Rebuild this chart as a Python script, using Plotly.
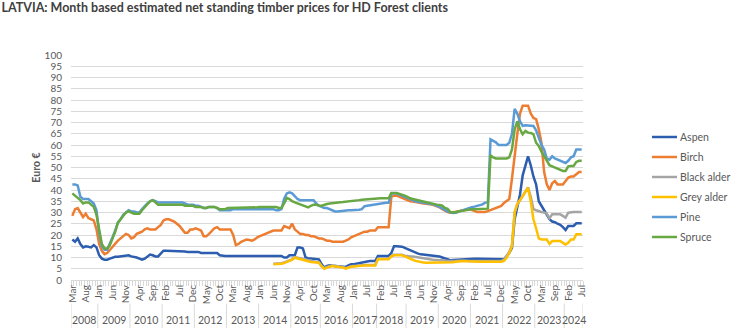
import plotly.graph_objects as go

# ---------------- categories ----------------
years = [2008, 2009, 2010, 2011, 2012, 2013, 2014, 2015, 2016,
         2017, 2018, 2019, 2020, 2021, 2022, 2023, 2024]
ALL = ["Jan", "Feb", "Mar", "Apr", "May", "Jun", "Jul", "Aug", "Sep", "Oct", "Nov", "Dec"]
months_by_year = {
    2008: ["Mar", "Apr", "May", "Jun", "Jul", "Aug", "Sep", "Oct", "Nov", "Dec"],
    2009: ALL, 2010: ALL, 2011: ALL, 2012: ALL, 2013: ALL, 2014: ALL,
    2015: ["Jan", "Feb", "Mar", "Apr", "May", "Jul", "Aug", "Sep", "Oct", "Nov", "Dec"],
    2016: ALL,
    2017: ["Jan", "Feb", "Mar", "Apr", "May", "Jul", "Aug", "Oct", "Dec"],
    2018: ["Jan", "Feb", "Mar", "Apr", "May", "Jun", "Jul", "Aug", "Sep", "Nov", "Dec"],
    2019: ALL, 2020: ALL, 2021: ALL, 2022: ALL,
    2023: ["Jan", "Feb", "Mar", "Apr", "May", "Jul", "Aug", "Sep", "Oct", "Nov", "Dec"],
    2024: ["Jan", "Feb", "Mar", "Apr", "May", "Jun", "Jul"],
}

# ---------------- series values (Euro) ----------------
aspen = [
    18, 17, 18.5, 16, 14.5, 15, 14.8, 14.5, 15.5, 14.5,
    11, 9.5, 9, 9, 9.5, 10, 10.3, 10.3, 10.5, 10.5, 11, 11,
    10.5, 10.3, 10, 9.5, 9, 9.5, 10.5, 11.3, 11, 10.5, 10.5, 12,
    13, 13, 13, 13, 13, 13, 13, 13, 12.7, 12.5, 12.5, 12.5,
    12.5, 12.5, 12, 12, 12, 12, 12, 12, 12, 11, 10.7, 10.7,
    10.7, 10.7, 10.7, 10.7, 10.7, 10.7, 10.7, 10.7, 10.7, 10.7, 10.7, 10.7,
    10.7, 10.7, 10.7, 10.7, 10.7, 10.7, 10.7, 10.7, 10.7, 10, 10, 11,
    11, 11, 14.5, 14.5, 14, 10, 9.7, 9.5, 9.5, 9.3, 9.2,
    7, 5.5, 6.3, 6.5, 6.3, 6.2, 6.2, 6, 6, 5.8, 6.5, 7,
    7, 7.3, 7.5, 7.7, 8, 8.2, 8.4, 8.4, 8.4,
    10.7, 10.7, 10.7, 10.7, 10.7, 12, 15, 15, 15, 14.8, 14.3,
    13.8, 13.3, 12.5, 12, 11.7, 11.4, 11.3, 11.2, 11.1, 11, 10.8, 10.5,
    10.4, 10, 9.5, 9.2, 8.8, 8.9, 9, 9.1, 9.2, 9.3, 9.3, 9.4,
    9.4, 9.4, 9.4, 9.4, 9.3, 9.3, 9.2, 9.1, 9.1, 9.1, 9.1, 9.1,
    9.2, 10.5, 12.1, 14.3, 27, 32.5, 38, 46.5, 50.5, 55, 51, 46,
    42.5, 35, 33, 31, 29, 27, 26, 25.7, 25, 24.5, 23.5,
    22.2, 24, 24, 24, 25.2, 25.2, 25.2,
]
birch = [
    28.5, 31.5, 32, 30, 28, 29.5, 27.5, 27, 26.5, 22.5,
    16, 13, 11.5, 12, 13.5, 14.5, 16, 17.5, 18.5, 19.5, 20.5, 20,
    18.5, 19, 20.5, 21, 21.5, 22.5, 23, 22.5, 22.5, 22.5, 23.5, 24.5,
    26.5, 27, 27, 26.5, 26, 25, 24, 22.5, 21, 21, 22.5, 22.5,
    23, 22.5, 22, 19.5, 19.5, 20.5, 22, 23, 23.5, 22.5, 22.5, 22.5,
    22.5, 22.5, 20, 15.5, 16, 17, 17.5, 18, 17.8, 17.5, 18, 19,
    19.5, 20, 20.5, 21, 21.5, 22, 22, 22, 22, 24, 23.5, 23,
    25, 22.5, 21.5, 20.5, 20.5, 20, 20, 19.5, 19.5, 19, 18.5,
    18.5, 18, 17.5, 17.5, 17, 17, 17, 17, 17, 17.5, 18, 19,
    19.5, 20, 20.5, 21, 21.5, 21.5, 22, 22, 22,
    23.5, 23.5, 23.5, 23.5, 23.5, 37, 37.5, 37.5, 37, 36.5, 36,
    35.5, 35, 34.9, 34.6, 34.3, 34.1, 34, 33.9, 33.8, 33.6, 33.2, 32.8,
    32.3, 31.5, 30.8, 30.2, 29.9, 30, 30.3, 30.6, 30.8, 31, 31.2, 31.4,
    31.2, 30.8, 30.2, 30.2, 30.2, 30.2, 30.6, 31.1, 31.5, 32.1, 32.5, 32.9,
    34.2, 35, 36, 45, 56, 65, 74, 77.5, 77.5, 77.5, 74, 72,
    71.5, 67, 61, 48, 42.5, 40, 43, 44, 42.5, 42.5, 42.5,
    44, 45.5, 46, 46, 47, 48, 48,
]
# alder series start in Jun 2014
black_alder = [
    7.2, 7.2, 7.2, 7.5, 7.8, 8.3, 8.8,
    9.2, 10.2, 9.9, 9.6, 9.2, 8.9, 8.6, 8.4, 8.2, 8, 7.8,
    6.2, 5.3, 5.8, 6.2, 6.4, 6.2, 6.1, 6.1, 5.8, 5.3, 5.8, 6.1,
    6.2, 6.4, 6.5, 6.7, 6.7, 6.7, 6.7, 6.7, 6.7,
    9.4, 9.4, 9.4, 9.4, 9.4, 10.7, 11.2, 11.2, 11.2, 11.2, 10.8,
    10.5, 10.4, 10.4, 10.2, 10, 9.8, 9.5, 9.2, 9, 8.9, 8.9, 8.9,
    8.9, 8.9, 8.7, 8.5, 8.4, 8.4, 8.5, 8.6, 8.7, 8.7, 8.6, 8.5,
    8.4, 8.4, 8.4, 8.4, 8.4, 8.4, 8.4, 8.4, 8.4, 8.4, 8.4, 8.5,
    9, 10.5, 12.5, 15.5, 30, 33.5, 35.5, 37.5, 39.5, 41.2, 37, 31.5,
    31, 30.5, 30.2, 30, 29.5, 27.5, 29.2, 29.2, 29.2, 29.2, 28.5,
    27.7, 29.9, 30.2, 30.2, 30.2, 30.2, 30.2,
]
grey_alder = [
    7, 7, 7, 7.2, 7.5, 8, 8.5,
    9, 9.9, 9.6, 9.2, 8.8, 8.4, 8.2, 8, 7.9, 7.8, 7.7,
    6, 5, 5.5, 6, 6.2, 6, 5.9, 5.9, 5.5, 5, 5.5, 5.9,
    6, 6.2, 6.3, 6.5, 6.5, 6.5, 6.5, 6.5, 6.5,
    9.2, 9.2, 9.2, 9.2, 9.2, 10.5, 11, 11, 11, 11, 10.5,
    9.9, 9.5, 9, 8.5, 8.2, 8, 7.8, 7.7, 7.7, 7.7, 7.7, 7.7,
    7.7, 7.7, 7.7, 7.7, 7.7, 7.9, 8.1, 8.3, 8.4, 8.4, 8.3, 8.2,
    8.1, 8.1, 8.1, 8.1, 8.1, 8.1, 8.1, 8.1, 8.1, 8.1, 8.1, 8.1,
    8.5, 9.9, 12, 15, 30, 34, 35.5, 37.5, 39, 41, 35, 27,
    23, 18.5, 18, 18, 18, 16, 17.3, 17.3, 17.3, 17.3, 16.5,
    15.8, 16.5, 18, 18, 20.3, 20.3, 20.3,
]
pine = [
    42.5, 42.5, 42, 37, 36, 36, 36, 35, 34, 31,
    21, 15, 13.5, 13.5, 16, 19, 22, 25.5, 27, 29, 30, 31,
    30.5, 30.5, 30, 30, 31.5, 33, 34, 35, 35.5, 35, 34.5, 34.5,
    34.5, 34.5, 34.5, 34.5, 34.5, 34.5, 34.5, 34.5, 34, 33.5, 33.5, 33.5,
    33, 33, 32.5, 32, 32, 32.5, 32.5, 32.5, 32, 31, 31, 31,
    31, 31, 31.5, 31.5, 31.5, 31.5, 31.5, 31.5, 31.5, 31.5, 31.5, 31.5,
    31.5, 31.5, 31.5, 31.5, 31.5, 31.5, 31, 31, 31.5, 36, 38.5, 39,
    38.5, 37, 36, 35.5, 35.5, 35.5, 35.5, 35.5, 35.5, 34, 33,
    32.5, 32, 32, 31.5, 31, 30.5, 30.5, 30.7, 30.8, 31, 31, 31,
    31, 31.1, 31.2, 31.5, 32.8, 33, 33.2, 33.4, 33.6,
    34, 34, 34.3, 34.3, 34.3, 38.5, 38.5, 38.5, 38, 37.5, 37,
    36.5, 36, 35.3, 35, 34.8, 34.6, 34.5, 34.2, 34, 33.8, 33.5, 33,
    32.5, 31.9, 31.2, 30.4, 30, 29.8, 29.9, 30.3, 30.7, 31.2, 31.8, 32.1,
    32.3, 32.6, 33, 33.2, 33.6, 34.4, 34.5, 62.5, 61.8, 61.2, 60, 60,
    60, 60, 61, 65, 76, 74, 70.5, 68.5, 68.8, 68.8, 68.8, 68.5,
    66.5, 63, 60, 58, 54, 53.5, 55, 54, 53.5, 53, 52.5,
    52, 53, 54.5, 55, 58, 58, 58,
]
spruce = [
    38.5, 37.5, 36.5, 35.5, 34, 34.5, 34.5, 33.5, 32.5, 29,
    22, 16, 14, 14, 15.5, 18.5, 21.5, 25.5, 27, 28.5, 30, 30.5,
    30, 29.5, 29.5, 29.5, 31, 32.5, 33.5, 35, 35.5, 34.5, 33.5, 33.5,
    33.5, 33.5, 33.5, 33.5, 33.5, 33.5, 33.5, 33.5, 33, 33, 33, 33,
    32.5, 32.5, 32.5, 32, 32, 32.5, 32.5, 32.5, 32, 31.5, 31.5, 31.5,
    32, 32, 32, 32, 32.3, 32.3, 32.3, 32.3, 32.3, 32.3, 32.3, 32.3,
    32.5, 32.5, 32.5, 32.5, 32.5, 32.5, 32.5, 32, 32, 34, 36.5, 36,
    35, 34.5, 34, 33.5, 33, 32.5, 32.3, 33, 33.5, 33.5, 33,
    33, 33.5, 33.8, 34, 34.2, 34.5, 34.5, 34.6, 34.7, 34.8, 34.9, 35,
    35, 35.2, 35.5, 35.7, 35.8, 36, 36.2, 36.3, 36.3,
    36.3, 36.3, 36.3, 36.3, 36.3, 38.7, 38.7, 38.7, 38.3, 38, 37.5,
    37, 36.3, 36, 35.7, 35.3, 35, 34.9, 34.6, 34.3, 34.1, 33.8, 33.5,
    33.3, 33, 32, 31.6, 30.2, 30, 30, 30.5, 30.7, 31, 31.2, 31.4,
    31.4, 31.4, 31.4, 31.5, 31.5, 31.6, 31.7, 55.5, 54.5, 54, 54, 54,
    54, 54, 54.5, 58, 67, 70.5, 67, 64.8, 66.3, 65.5, 65.3, 64.8,
    61, 59.6, 57, 55, 53, 51, 50.5, 50, 49.5, 49, 48.5,
    48.5, 50.5, 50.7, 50.7, 52.5, 53, 53,
]

series_names = ["Aspen", "Birch", "Black alder", "Grey alder", "Pine", "Spruce"]
series_colors = ["#2D5DAE", "#ED7D31", "#A5A5A5", "#FFC000", "#5B9BD5", "#68A843"]

title_text = "LATVIA: Month based estimated net standing timber prices for HD Forest clients"
y_title = "Euro €"

# ---------------- build category axis ----------------
cat_year, cat_month = [], []
for y in years:
    for m in months_by_year[y]:
        cat_year.append(y)
        cat_month.append(m)
N = len(cat_month)
x = list(range(N))

alder_start = cat_year.index(2014) + months_by_year[2014].index("Jun")
def full(vals, start=0):
    return [None] * start + vals

data = [full(aspen), full(birch), full(black_alder, alder_start),
        full(grey_alder, alder_start), full(pine), full(spruce)]
for d in data:
    assert len(d) == N, len(d)

FONT = "Lato"
W, H = 731, 328
ML, MR, MT, MB = 71, 148, 55, 48
PW, PH = W - ML - MR, H - MT - MB

def px_x(p):   # pixel -> paper x
    return (p - ML) / PW

def px_y(p):   # pixel -> paper y
    return (H - MB - p) / PH

fig = go.Figure()
for name, col, vals in zip(series_names, series_colors, data):
    fig.add_trace(go.Scatter(x=x, y=vals, name=name, mode="lines",
                             line=dict(color=col, width=2.5), showlegend=False))

tickvals = list(range(0, N, 5))
ticktext = [cat_month[i] for i in tickvals]

shapes, annotations = [], []
# year group labels and dividers
start = 0
bounds = [-0.5]
for y in years:
    n = len(months_by_year[y])
    mid = start + (n - 1) / 2
    annotations.append(dict(x=mid, y=-0.178, xref="x", yref="paper", text=str(y),
                            showarrow=False, yanchor="middle",
                            font=dict(family=FONT, size=10.5, color="#595959")))
    start += n
    bounds.append(start - 0.5)
for b in bounds:
    shapes.append(dict(type="line", xref="x", yref="paper", x0=b, x1=b,
                       y0=-0.105, y1=-0.215, line=dict(color="#D9D9D9", width=1)))

# y-axis title
annotations.append(dict(xref="paper", yref="paper", x=-0.07, y=0.5, xanchor="center",
                        yanchor="middle", text="<b>%s</b>" % y_title,
                        textangle=-90, showarrow=False,
                        font=dict(family=FONT, size=10.5, color="#595959")))

# legend (drawn to match the original placement)
for k, (name, col) in enumerate(zip(series_names, series_colors)):
    yy = px_y(137 + 20 * k)
    shapes.append(dict(type="line", xref="paper", yref="paper",
                       x0=px_x(652), x1=px_x(677), y0=yy, y1=yy,
                       line=dict(color=col, width=2.5)))
    annotations.append(dict(xref="paper", yref="paper", x=px_x(678), y=yy,
                            xanchor="left", yanchor="middle", text=name, showarrow=False,
                            font=dict(family=FONT, size=10.5, color="#595959")))

fig.update_layout(
    width=W, height=H,
    margin=dict(l=ML, r=MR, t=MT, b=MB),
    paper_bgcolor="white", plot_bgcolor="white",
    title=dict(text="<b>%s</b>" % title_text, x=0.002, xanchor="left", xref="container",
               y=0.99, yanchor="top", yref="container",
               font=dict(family=FONT, size=12.5, color="#404040")),
    font=dict(family=FONT, color="#595959"),
    showlegend=False,
    shapes=shapes, annotations=annotations,
)
fig.update_xaxes(range=[-0.5, N - 0.5], tickmode="array", tickvals=tickvals, ticktext=ticktext,
                 tickangle=-90, ticks="", showgrid=False, zeroline=False,
                 showline=True, linecolor="#D9D9D9",
                 tickfont=dict(family=FONT, size=10, color="#595959"),
                 minor=dict(tickmode="array", tickvals=[i - 0.5 for i in range(N + 1)],
                            ticks="outside", ticklen=5, tickcolor="#D9D9D9", showgrid=False))
fig.update_yaxes(range=[0, 100], dtick=5, showgrid=True, gridcolor="#D9D9D9", gridwidth=1,
                 zeroline=False, ticks="", ticklabelstandoff=8,
                 tickfont=dict(family=FONT, size=10, color="#595959"))

fig.write_html("out.html")
